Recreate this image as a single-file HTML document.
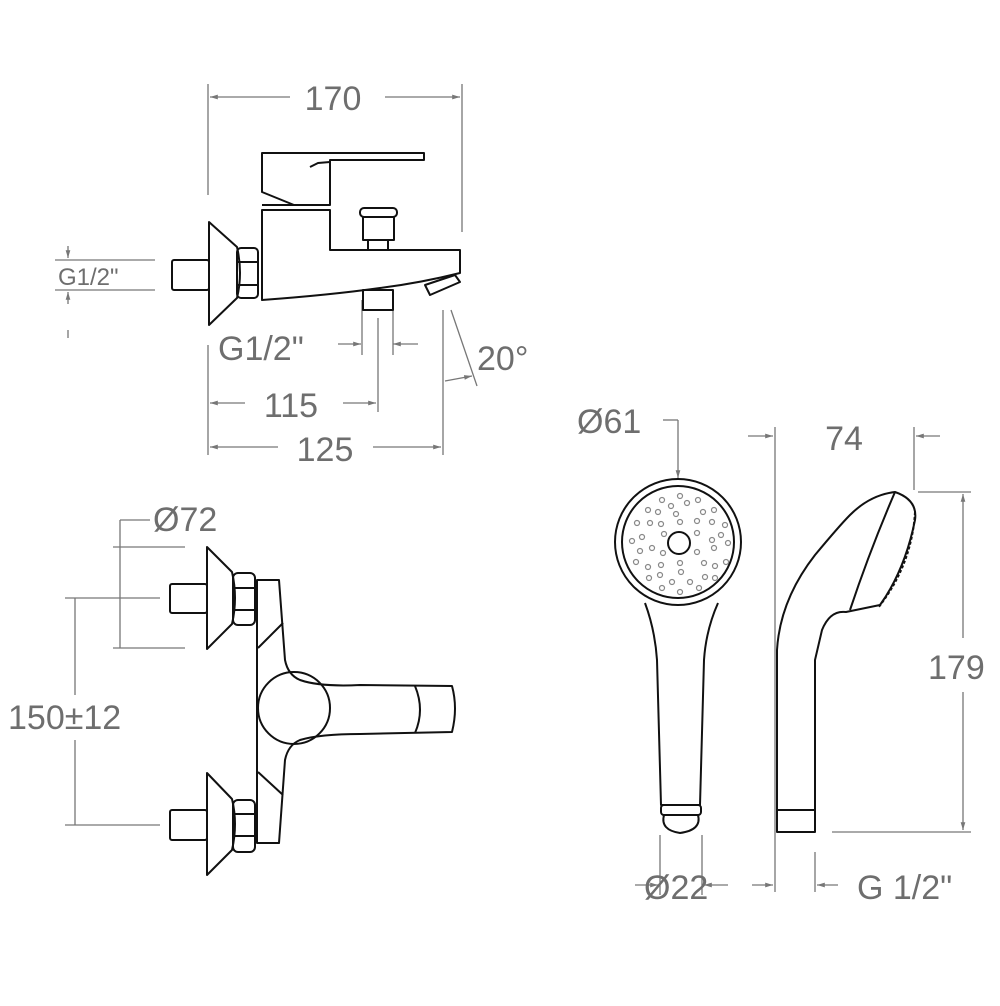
<!DOCTYPE html>
<html><head><meta charset="utf-8"><style>
html,body{margin:0;padding:0;background:#fff;}
svg{display:block}
.d{stroke:#777;stroke-width:1.3;fill:none}
.o{stroke:#111;stroke-width:2;fill:none;stroke-linejoin:round}
.t{font-family:"Liberation Sans",sans-serif;fill:#6e6e6e}
.h{stroke:#888;stroke-width:1.2;fill:none}
</style></head><body>
<svg width="1000" height="1006" viewBox="0 0 1000 1006" xmlns="http://www.w3.org/2000/svg">
<defs><marker id="a" viewBox="0 0 10 10" refX="10" refY="5" markerWidth="7" markerHeight="6" orient="auto-start-reverse"><path d="M0,2 L10,5 L0,8z" fill="#777"/></marker></defs>

<!-- top faucet dims -->
<line class="d" x1="208" y1="84" x2="208" y2="195"/>
<line class="d" x1="462" y1="84" x2="462" y2="232"/>
<line class="d" x1="210" y1="97" x2="290" y2="97" marker-start="url(#a)"/>
<line class="d" x1="385" y1="97" x2="460" y2="97" marker-end="url(#a)"/>
<text class="t" x="333" y="110" font-size="34" text-anchor="middle">170</text>

<line class="d" x1="55" y1="260" x2="155" y2="260"/>
<line class="d" x1="55" y1="290" x2="155" y2="290"/>
<line class="d" x1="68" y1="246" x2="68" y2="258" marker-end="url(#a)"/>
<line class="d" x1="68" y1="304" x2="68" y2="292" marker-end="url(#a)"/>
<line class="d" x1="68" y1="330" x2="68" y2="338"/>
<text class="t" x="58" y="285" font-size="24">G1/2"</text>

<text class="t" x="218" y="360" font-size="34">G1/2"</text>
<line class="d" x1="338" y1="344" x2="361" y2="344" marker-end="url(#a)"/>
<line class="d" x1="418" y1="344" x2="393" y2="344" marker-end="url(#a)"/>
<line class="d" x1="362" y1="300" x2="362" y2="355"/>
<line class="d" x1="393" y1="300" x2="393" y2="355"/>
<line class="d" x1="378" y1="318" x2="378" y2="412"/>
<line class="d" x1="443" y1="310" x2="443" y2="455"/>
<line class="d" x1="451" y1="310" x2="477" y2="386"/>
<line class="d" x1="445" y1="381" x2="472" y2="376" marker-end="url(#a)"/>
<text class="t" x="477" y="370" font-size="34">20°</text>

<line class="d" x1="208" y1="345" x2="208" y2="455"/>
<line class="d" x1="210" y1="403" x2="245" y2="403" marker-start="url(#a)"/>
<line class="d" x1="343" y1="403" x2="376" y2="403" marker-end="url(#a)"/>
<text class="t" x="291" y="417" font-size="34" text-anchor="middle">115</text>
<line class="d" x1="210" y1="447" x2="278" y2="447" marker-start="url(#a)"/>
<line class="d" x1="373" y1="447" x2="441" y2="447" marker-end="url(#a)"/>
<text class="t" x="325" y="461" font-size="34" text-anchor="middle">125</text>

<!-- top faucet -->
<rect class="o" x="172" y="260" width="37" height="30" rx="2"/>
<path class="o" d="M209,222 L209,325 L237,298 Q243,273 237,247 Z"/>
<rect class="o" x="237" y="248" width="21" height="50" rx="4"/>
<line class="o" x1="238" y1="262" x2="257" y2="262"/><line class="o" x1="238" y1="285" x2="257" y2="285"/>
<path class="o" d="M262,153 L424,153 L424,160 L330,160 L330,205 L294,205 L262,192 Z"/>
<path class="o" d="M310,167 L318,163 L330,162"/>
<path class="o" d="M262,210 L330,210 L330,250 L460,250 L460,273 Q420,283 380,288 Q330,295 262,300 Z"/>
<line class="o" x1="262" y1="205" x2="330" y2="205"/>
<rect class="o" x="360" y="208" width="37" height="9" rx="4"/>
<rect class="o" x="363" y="217" width="31" height="23"/>
<rect class="o" x="368" y="240" width="20" height="10"/>
<rect class="o" x="363" y="290" width="30" height="20"/>
<path class="o" d="M425,285 L455,275 L460,282 L430,295 Z"/>

<!-- bottom faucet dims -->
<text class="t" x="153" y="531" font-size="34">Ø72</text>
<line class="d" x1="120" y1="520" x2="150" y2="520"/>
<line class="d" x1="120" y1="520" x2="120" y2="648"/>
<line class="d" x1="113" y1="547" x2="185" y2="547"/>
<line class="d" x1="113" y1="648" x2="185" y2="648"/>
<line class="d" x1="65" y1="598" x2="160" y2="598"/>
<line class="d" x1="65" y1="825" x2="160" y2="825"/>
<line class="d" x1="75" y1="598" x2="75" y2="695"/>
<line class="d" x1="75" y1="740" x2="75" y2="825"/>
<text class="t" x="8" y="729" font-size="34">150±12</text>

<!-- bottom faucet -->
<rect class="o" x="170" y="584" width="37" height="29" rx="2"/>
<path class="o" d="M207,547 L207,649 L232,624 Q238,598 232,572 Z"/>
<rect class="o" x="233" y="573" width="22" height="52" rx="5"/>
<line class="o" x1="234" y1="588" x2="254" y2="588"/><line class="o" x1="234" y1="610" x2="254" y2="610"/>
<rect class="o" x="170" y="810" width="37" height="30" rx="2"/>
<path class="o" d="M207,773 L207,875 L232,850 Q238,824 232,799 Z"/>
<rect class="o" x="233" y="800" width="22" height="52" rx="5"/>
<line class="o" x1="234" y1="814" x2="254" y2="814"/><line class="o" x1="234" y1="836" x2="254" y2="836"/>
<path class="o" d="M257,580 L279,580 L285,660 Q288,675 300,680 Q320,687 360,685 L452,686 Q458,708 452,732 L360,734 Q320,734 300,740 Q288,745 285,760 L279,843 L257,843 Z"/>
<path class="o" d="M258,648 L283,623"/><path class="o" d="M258,772 L283,795"/>
<circle class="o" cx="294" cy="708" r="36" fill="#fff"/>
<line class="o" x1="257" y1="670" x2="257" y2="746"/>
<path class="o" d="M415,686 Q425,710 415,733"/>

<!-- shower dims -->
<text class="t" x="577" y="433" font-size="34">Ø61</text>
<line class="d" x1="663" y1="420" x2="678" y2="420"/>
<line class="d" x1="678" y1="420" x2="678" y2="478" marker-end="url(#a)"/>
<line class="d" x1="775" y1="427" x2="775" y2="892"/>
<line class="d" x1="748" y1="436" x2="773" y2="436" marker-end="url(#a)"/>
<text class="t" x="844" y="450" font-size="34" text-anchor="middle">74</text>
<line class="d" x1="914" y1="427" x2="914" y2="490"/>
<line class="d" x1="940" y1="436" x2="916" y2="436" marker-end="url(#a)"/>
<line class="d" x1="918" y1="492" x2="971" y2="492"/>
<line class="d" x1="832" y1="832" x2="971" y2="832"/>
<line class="d" x1="963" y1="494" x2="963" y2="638" marker-start="url(#a)"/>
<line class="d" x1="963" y1="692" x2="963" y2="830" marker-end="url(#a)"/>
<text class="t" x="928" y="679" font-size="34">179</text>
<line class="d" x1="660" y1="835" x2="660" y2="895"/>
<line class="d" x1="702" y1="835" x2="702" y2="895"/>
<line class="d" x1="635" y1="885" x2="658" y2="885" marker-end="url(#a)"/>
<line class="d" x1="728" y1="885" x2="704" y2="885" marker-end="url(#a)"/>
<text class="t" x="644" y="899" font-size="34">Ø22</text>
<line class="d" x1="815" y1="852" x2="815" y2="892"/>
<line class="d" x1="752" y1="885" x2="773" y2="885" marker-end="url(#a)"/>
<line class="d" x1="838" y1="885" x2="817" y2="885" marker-end="url(#a)"/>
<text class="t" x="857" y="899" font-size="34">G 1/2"</text>

<!-- shower front -->
<circle class="o" cx="678" cy="542" r="63"/>
<circle class="o" cx="678" cy="542" r="56"/>
<circle class="o" cx="679" cy="543" r="11" stroke-width="3"/>
<g class="h">
<circle cx="662" cy="500" r="2.5"/><circle cx="680" cy="496" r="2.5"/><circle cx="698" cy="500" r="2.5"/><circle cx="671" cy="506" r="2.5"/><circle cx="687" cy="503" r="2.5"/>
<circle cx="648" cy="510" r="2.5"/><circle cx="658" cy="512" r="2.5"/><circle cx="676" cy="514" r="2.5"/><circle cx="703" cy="512" r="2.5"/><circle cx="714" cy="510" r="2.5"/>
<circle cx="637" cy="523" r="2.5"/><circle cx="650" cy="523" r="2.5"/><circle cx="661" cy="524" r="2.5"/><circle cx="680" cy="522" r="2.5"/><circle cx="697" cy="521" r="2.5"/><circle cx="712" cy="522" r="2.5"/><circle cx="725" cy="525" r="2.5"/>
<circle cx="632" cy="541" r="2.5"/><circle cx="642" cy="537" r="2.5"/><circle cx="664" cy="534" r="2.5"/><circle cx="697" cy="533" r="2.5"/><circle cx="712" cy="540" r="2.5"/><circle cx="721" cy="535" r="2.5"/><circle cx="728" cy="543" r="2.5"/>
<circle cx="640" cy="551" r="2.5"/><circle cx="652" cy="548" r="2.5"/><circle cx="663" cy="553" r="2.5"/><circle cx="697" cy="552" r="2.5"/><circle cx="714" cy="548" r="2.5"/>
<circle cx="636" cy="562" r="2.5"/><circle cx="648" cy="567" r="2.5"/><circle cx="661" cy="565" r="2.5"/><circle cx="680" cy="563" r="2.5"/><circle cx="704" cy="563" r="2.5"/><circle cx="715" cy="566" r="2.5"/><circle cx="726" cy="562" r="2.5"/>
<circle cx="649" cy="578" r="2.5"/><circle cx="660" cy="575" r="2.5"/><circle cx="672" cy="582" r="2.5"/><circle cx="681" cy="572" r="2.5"/><circle cx="690" cy="582" r="2.5"/><circle cx="705" cy="577" r="2.5"/><circle cx="715" cy="578" r="2.5"/>
<circle cx="662" cy="588" r="2.5"/><circle cx="680" cy="592" r="2.5"/><circle cx="699" cy="588" r="2.5"/>
</g>
<path class="o" d="M645,603 Q655,630 657,660 L661,805 L700,805 L704,660 Q706,630 718,603"/>
<rect class="o" x="661" y="805" width="40" height="10" rx="3"/>
<path class="o" d="M664,815 Q660,830 680,833 Q702,830 698,815"/>

<!-- shower side -->
<path class="o" d="M777,810 L777,650 Q780,600 815,555 Q840,525 850,515 Q870,495 895,492 Q918,500 915,520 Q905,570 880,605 L846,612 Q830,610 822,630 L815,660 L815,810"/>
<path class="o" d="M895,492 Q870,550 850,610"/>
<path class="o" d="M915,512 Q912,565 878,608" stroke-dasharray="3,2" stroke-width="4"/>
<rect class="o" x="777" y="810" width="38" height="22"/>
</svg>
</body></html>
